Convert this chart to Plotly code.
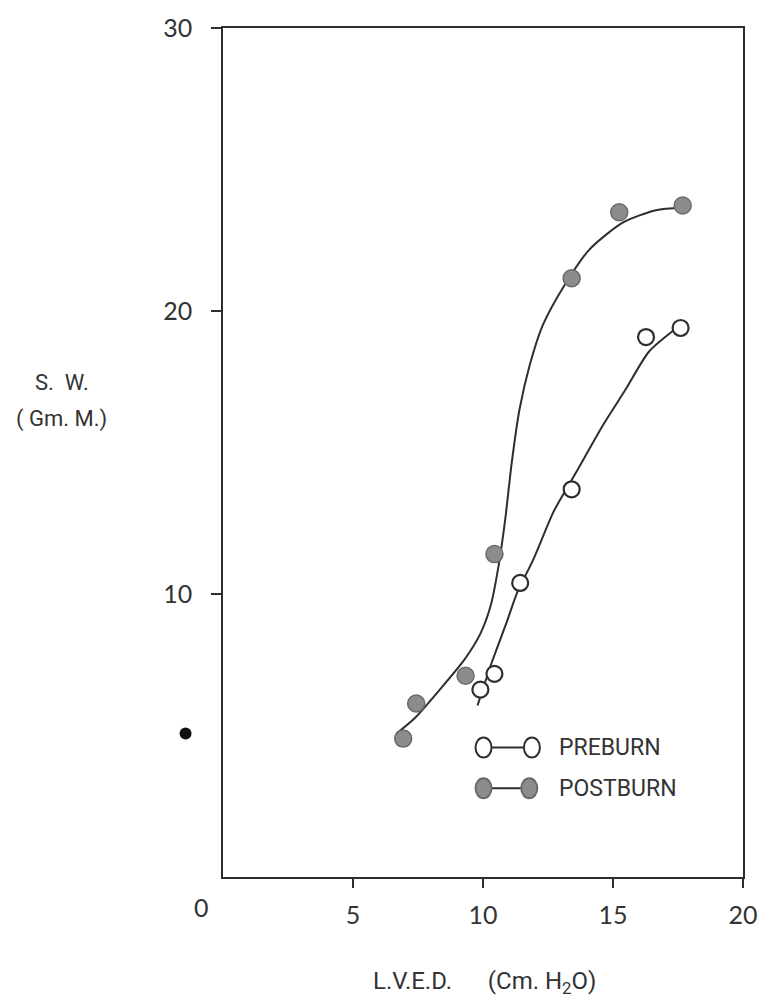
import plotly.graph_objects as go

# Stroke work (Gm. M.) against left ventricular end-diastolic pressure (Cm. H2O)
preburn_lved = [9.90, 10.44, 11.43, 13.41, 16.27, 17.60]
preburn_sw = [6.62, 7.18, 10.39, 13.70, 19.08, 19.40]

postburn_lved = [6.93, 7.43, 9.33, 10.44, 13.41, 15.24, 17.68]
postburn_sw = [4.89, 6.13, 7.11, 11.41, 21.16, 23.49, 23.73]

# Hand-fitted curves through each series
preburn_curve_x = [9.79, 10.36, 10.93, 11.31, 11.96, 12.72, 13.60, 14.63, 15.50, 16.38, 17.41]
preburn_curve_y = [6.06, 7.64, 9.05, 10.04, 11.27, 12.92, 14.33, 15.99, 17.25, 18.56, 19.37]

postburn_curve_x = [6.67, 7.39, 8.53, 9.30, 9.90, 10.30, 10.60, 10.85, 11.10, 11.40, 11.80,
                    12.30, 13.14, 14.10, 15.39, 16.65, 17.68]
postburn_curve_y = [5.07, 5.63, 6.83, 7.70, 8.60, 9.60, 11.00, 12.60, 14.60, 16.50, 18.10,
                    19.50, 20.92, 22.18, 23.13, 23.56, 23.66]

x_ticks = [5, 10, 15, 20]
y_ticks = [10, 20, 30]
series_labels = ["PREBURN", "POSTBURN"]

INK = "#2e2e2e"
GREY_FILL = "#8c8c8c"
NUM_FONT = dict(family="Lato, DejaVu Sans, sans-serif", size=25, color="#333333")
TXT_FONT = dict(family="Roboto, DejaVu Sans, sans-serif", size=22, color="#333333")

fig = go.Figure()

fig.add_trace(go.Scatter(x=postburn_curve_x, y=postburn_curve_y, mode="lines",
                         line=dict(color=INK, width=2, shape="spline", smoothing=0.7),
                         hoverinfo="skip", showlegend=False))
fig.add_trace(go.Scatter(x=preburn_curve_x, y=preburn_curve_y, mode="lines",
                         line=dict(color=INK, width=2, shape="spline", smoothing=0.7),
                         hoverinfo="skip", showlegend=False))

fig.add_trace(go.Scatter(x=postburn_lved, y=postburn_sw, mode="markers", name=series_labels[1],
                         marker=dict(symbol="circle", size=17, color=GREY_FILL,
                                     line=dict(color="#6a6a6a", width=1.5)),
                         showlegend=False))
fig.add_trace(go.Scatter(x=preburn_lved, y=preburn_sw, mode="markers", name=series_labels[0],
                         marker=dict(symbol="circle", size=16, color="white",
                                     line=dict(color=INK, width=2.2)),
                         showlegend=False))

# Hand-drawn style key: two circles joined by a short bar, then the label
shapes = []
annotations = []
key_rows = [
    (0.1526, "white", INK, series_labels[0], 0.501, 0.594),
    (0.1045, GREY_FILL, "#6a6a6a", series_labels[1], 0.501, 0.589),
]
for y, fill, edge, label, x0, x1 in key_rows:
    shapes.append(dict(type="line", xref="paper", yref="paper", x0=x0, x1=x1, y0=y, y1=y,
                       line=dict(color=INK, width=2), layer="above"))
    for xc in (x0, x1):
        shapes.append(dict(type="circle", xref="paper", yref="paper",
                           xsizemode="pixel", ysizemode="pixel", xanchor=xc, yanchor=y,
                           x0=-8, x1=8, y0=-10, y1=10,
                           fillcolor=fill, line=dict(color=edge, width=2), layer="above"))
    annotations.append(dict(x=0.642, y=y, xref="paper", yref="paper", text=label,
                            showarrow=False, xanchor="left", yanchor="middle",
                            font=dict(family="Roboto, DejaVu Sans, sans-serif", size=23, color="#333333")))

# Small ink blot at the left margin
shapes.append(dict(type="circle", xref="paper", yref="paper",
                   xsizemode="pixel", ysizemode="pixel", xanchor=-0.072, yanchor=0.169,
                   x0=-6, x1=6, y0=-6, y1=6, fillcolor="#111111", line=dict(width=0)))

annotations += [
    dict(x=-0.042, y=-0.035, xref="paper", yref="paper", text="0", showarrow=False,
         xanchor="center", yanchor="middle", font=NUM_FONT),
    dict(x=-0.31, y=0.583, xref="paper", yref="paper", text="S.  W.", showarrow=False,
         xanchor="center", yanchor="middle", font=TXT_FONT),
    dict(x=-0.31, y=0.539, xref="paper", yref="paper", text="( Gm. M.)", showarrow=False,
         xanchor="center", yanchor="middle", font=TXT_FONT),
    dict(x=0.503, y=-0.124, xref="paper", yref="paper",
         text="L.V.E.D.      (Cm. H<sub>2</sub>O)", showarrow=False,
         xanchor="center", yanchor="middle", font=dict(TXT_FONT, size=24)),
]

fig.update_layout(
    width=770, height=1001,
    margin=dict(l=223, r=22, t=25, b=124),
    paper_bgcolor="white", plot_bgcolor="white",
    shapes=shapes, annotations=annotations,
    showlegend=False,
)
fig.update_xaxes(range=[0, 20], tickvals=x_ticks, ticks="outside", ticklen=9, tickwidth=1.5,
                 tickcolor=INK, showline=True, linecolor=INK, linewidth=1.5, mirror=True,
                 showgrid=False, zeroline=False, tickfont=NUM_FONT, ticklabelstandoff=6)
fig.update_yaxes(range=[0, 30], tickvals=y_ticks, ticks="outside", ticklen=10, tickwidth=1.5,
                 tickcolor=INK, showline=True, linecolor=INK, linewidth=1.5, mirror=True,
                 showgrid=False, zeroline=False, tickfont=NUM_FONT, ticklabelstandoff=14)

fig.write_html("out.html")
